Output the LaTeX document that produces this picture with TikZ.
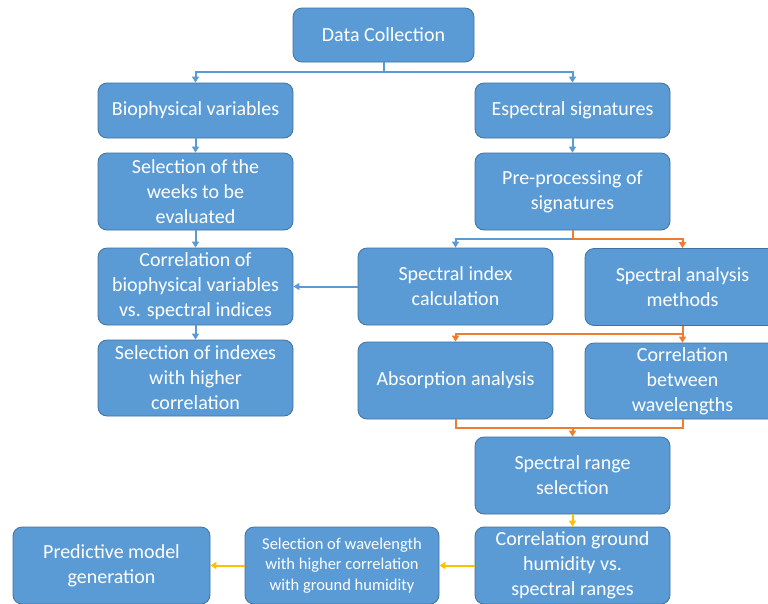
\documentclass[tikz,border=0pt]{standalone}
\usepackage{fontspec}
\setmainfont{Carlito}
\usetikzlibrary{arrows.meta}
\begin{document}
\begin{tikzpicture}[x=1pt,y=-1pt]
\definecolor{boxfill}{HTML}{5B9BD5}
\definecolor{boxline}{HTML}{41719C}
\definecolor{lnblue}{HTML}{5B9BD5}
\definecolor{lnorange}{HTML}{ED7D31}
\definecolor{lngold}{HTML}{FFC000}
\tikzset{
  stagebox/.style={fill=boxfill, draw=boxline, line width=0.8pt, rounded corners=9pt,
    minimum width=195pt, minimum height=77pt, inner sep=0pt, align=center,
    text=white, font=\fontsize{20}{25}\selectfont},
  flowline/.style={line width=2pt, -{Triangle[length=6pt,width=7pt]}},
  plainline/.style={line width=2pt}
}
\useasboundingbox (0,0) rectangle (768,603);
\clip (0,0) rectangle (768,603);
\fill[white] (0,0) rectangle (768,603);
% left column
\node[stagebox, minimum width=181pt, minimum height=54pt] (dc) at (383.5,35) {Data Collection};
\node[stagebox, minimum height=55pt] (bio) at (195.5,110.5) {Biophysical variables};
\node[stagebox] (weeks) at (195.5,191.5) {Selection of the\\weeks to be\\evaluated};
\node[stagebox] (corbio) at (195.5,286.5) {Correlation of\\biophysical variables\\vs. spectral indices};
\node[stagebox, minimum height=76pt] (selidx) at (195.5,378) {Selection of indexes\\with higher\\correlation};
% right column
\node[stagebox, minimum height=55pt] (esp) at (572.5,110.5) {Espectral signatures};
\node[stagebox] (prep) at (572.5,191.5) {Pre-processing of\\signatures};
\node[stagebox] (spidx) at (455.5,286.5) {Spectral index\\calculation};
\node[stagebox] (spmeth) at (682.5,287) {Spectral analysis\\methods};
\node[stagebox] (absorb) at (455.5,380.5) {Absorption analysis};
\node[stagebox, minimum height=76pt] (corwave) at (682.5,381) {Correlation\\between\\wavelengths};
\node[stagebox] (range) at (572.5,475.5) {Spectral range\\selection};
% bottom row
\node[stagebox] (corhum) at (572.5,565.5) {Correlation ground\\humidity vs.\\spectral ranges};
\node[stagebox, minimum width=194pt, font=\fontsize{16.5}{20.5}\selectfont] (selwave) at (342,565.5) {Selection of wavelength\\with higher correlation\\with ground humidity};
\node[stagebox, minimum width=197pt] (predict) at (111.5,565.5) {Predictive model\\generation};
% connectors
\coordinate (j1) at (383.5,72);
\coordinate (j2) at (572.5,239);
\coordinate (j3) at (682.5,333.5);
\coordinate (j4) at (572.5,428);
\draw[plainline, lnblue] (dc.south) -- (j1);
\draw[flowline, lnblue] (j1) -| (bio.north);
\draw[flowline, lnblue] (j1) -| (esp.north);
\draw[flowline, lnblue] (bio) -- (weeks);
\draw[flowline, lnblue] (weeks) -- (corbio);
\draw[flowline, lnblue] (corbio) -- (selidx);
\draw[flowline, lnblue] (esp) -- (prep);
\draw[flowline, lnblue] (j2) -| (spidx.north);
\draw[plainline, lnorange] (prep.south) -- (j2);
\draw[flowline, lnorange] (j2) -| (spmeth.north);
\draw[flowline, lnblue] (spidx.west) -- (corbio.east);
\draw[plainline, lnorange] (spmeth.south) -- (j3);
\draw[flowline, lnorange] (j3) -| (absorb.north);
\draw[flowline, lnorange] (j3) -- (corwave.north);
\draw[plainline, lnorange] (absorb.south) |- (j4);
\draw[plainline, lnorange] (corwave.south) |- (j4);
\draw[flowline, lnorange] (j4) -- (range.north);
\draw[flowline, lngold] (range) -- (corhum);
\draw[flowline, lngold] (corhum) -- (selwave);
\draw[flowline, lngold] (selwave) -- (predict);
\end{tikzpicture}
\end{document}
